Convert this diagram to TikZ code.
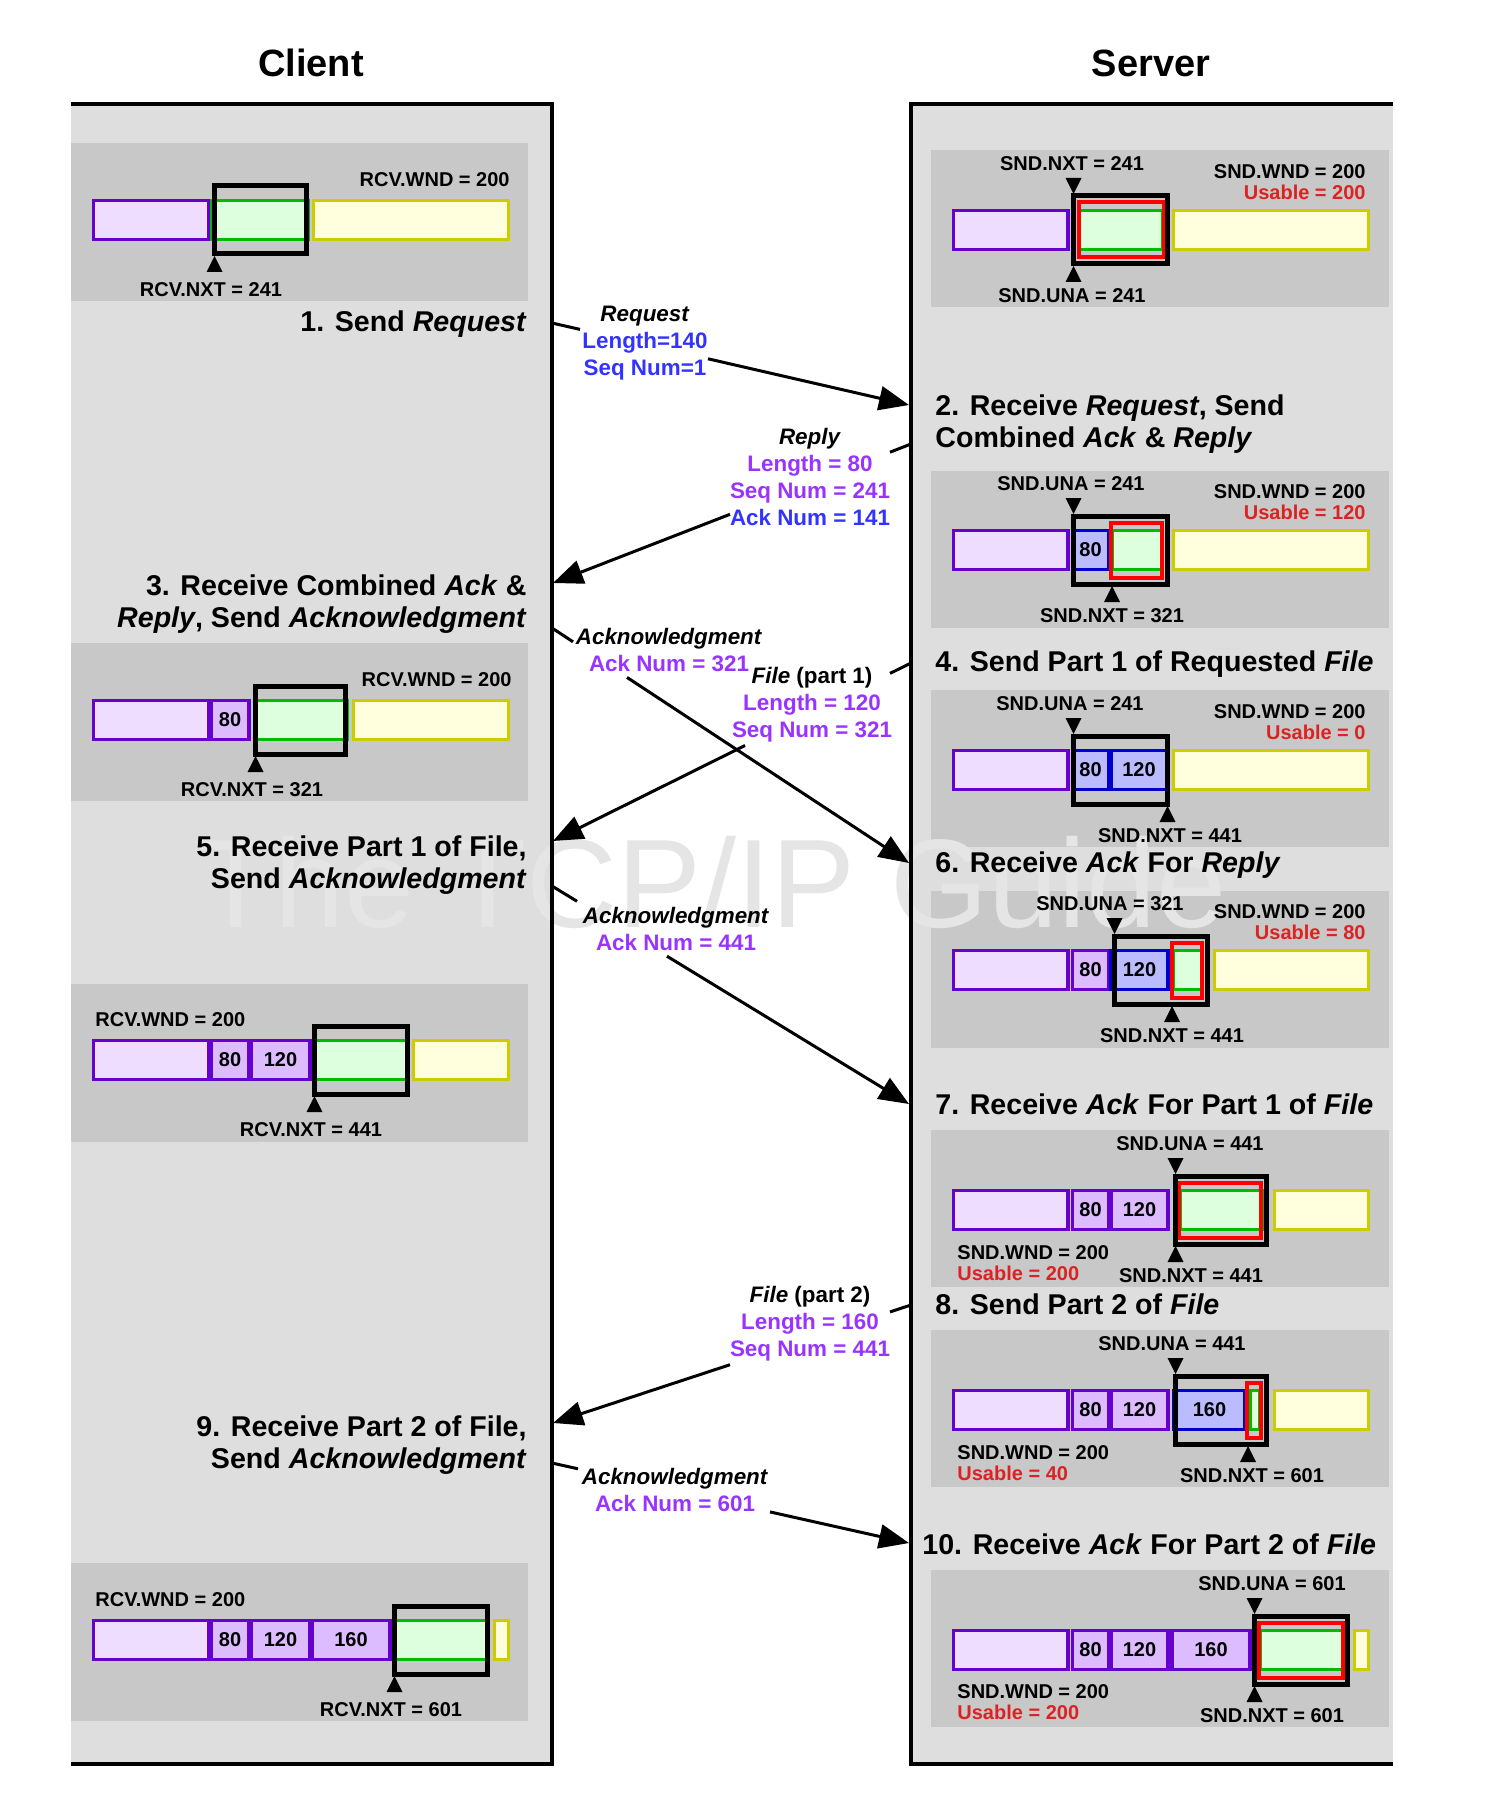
\documentclass[tikz,border=0pt]{standalone}
\usepackage{fontspec}
\setmainfont{Liberation Sans}
\usetikzlibrary{arrows.meta}

\definecolor{colgray}{HTML}{DEDEDE}
\definecolor{panegray}{HTML}{C8C8C8}
\definecolor{oldline}{HTML}{6600CC}
\definecolor{oldfill}{HTML}{EEDDFF}
\definecolor{ackfill}{HTML}{DDBBFF}
\definecolor{sentline}{HTML}{0000CC}
\definecolor{sentfill}{HTML}{BBBBFF}
\definecolor{winline}{HTML}{00BB00}
\definecolor{winfill}{HTML}{DDFFDD}
\definecolor{futline}{HTML}{CCCC00}
\definecolor{futfill}{HTML}{FFFFDD}
\definecolor{usered}{HTML}{DD2222}
\definecolor{msgblue}{HTML}{3333FF}
\definecolor{msgpurple}{HTML}{9933FF}

% one piece of a window bar: style, x1, x2, y of bar centre
\newcommand{\wseg}[4]{\draw[#1] ({#2},{#4-19.5}) rectangle ({#3},{#4+19.5});}
\newcommand{\wfrm}[3]{\draw[wnd] ({#1},{#3-34}) rectangle ({#2},{#3+34});}
\newcommand{\ufrm}[3]{\draw[usable] ({#1},{#3-27.5}) rectangle ({#2},{#3+27.5});}
\newcommand{\ptrup}[2]{\fill ({#1-8},{#2+52}) -- ({#1+8},{#2+52}) -- ({#1},{#2+36}) -- cycle;}
\newcommand{\ptrdn}[2]{\fill ({#1-8},{#2-52}) -- ({#1+8},{#2-52}) -- ({#1},{#2-36}) -- cycle;}

\begin{document}
\begin{tikzpicture}[x=0.5pt,y=-0.5pt,
  frame/.style={line width=2pt},
  old/.style={draw=oldline,fill=oldfill,line width=1.6pt},
  ackd/.style={draw=oldline,fill=ackfill,line width=1.6pt},
  sent/.style={draw=sentline,fill=sentfill,line width=1.6pt},
  win/.style={draw=winline,fill=winfill,line width=1.6pt},
  fut/.style={draw=futline,fill=futfill,line width=1.6pt},
  wnd/.style={draw=black,line width=2.5pt},
  usable/.style={draw=red,line width=2pt},
  lbl/.style={font=\fontsize{10}{12}\selectfont\bfseries,inner sep=0pt},
  stage/.style={font=\fontsize{14.3}{16}\selectfont\bfseries,inner sep=0pt},
  hdr/.style={font=\fontsize{19}{22}\selectfont\bfseries},
  msgtxt/.style={font=\fontsize{11.2}{13.5}\selectfont\bfseries,align=center,inner sep=0pt},
  msg/.style={line width=1.5pt},
  >={Triangle[length=15pt,width=12pt]}]
\useasboundingbox (0,0) rectangle (1506,1808);

% columns and panes
\fill[colgray] (71,104) rectangle (552,1764);
\fill[colgray] (911,104) rectangle (1393,1764);
\foreach \t in {143,643,984,1563} \fill[panegray] (71,\t) rectangle (528,{\t+158});
\foreach \t in {150,471,690,891,1130,1330,1570} \fill[panegray] (931,\t) rectangle (1389,{\t+157});
\node[font=\fontsize{63}{63}\selectfont,text=black!10] (wmark) at (712,882) {The TCP/IP Guide};
\draw[frame] (71,104) -- (552,104) -- (552,1764) -- (71,1764);
\draw[frame] (1393,104) -- (911,104) -- (911,1764) -- (1393,1764);

\node[hdr] (client) at (311,63) {Client};
\node[hdr] (server) at (1151,63) {Server};

%% client bars
% 1
\wseg{old}{93.5}{209}{220} \wseg{win}{212}{308}{220} \wseg{fut}{313.5}{508.5}{220}
\wfrm{214.5}{306.5}{220} \ptrup{214.5}{220}
\node[lbl] (c1nxt) at (211,290) {RCV.NXT = 241};
\node[lbl,anchor=east] (c1wnd) at (510,180) {RCV.WND = 200};
% 3
\wseg{old}{93.5}{209}{720} \wseg{ackd}{211}{249}{720} \wseg{win}{255}{347}{720} \wseg{fut}{353.5}{508.5}{720}
\wfrm{255.5}{345.5}{720} \ptrup{255.5}{720}
\node[lbl] (c2a) at (230,720) {80};
\node[lbl] (c2nxt) at (252,790) {RCV.NXT = 321};
\node[lbl,anchor=east] (c2wnd) at (512,680) {RCV.WND = 200};
% 5
\wseg{old}{93.5}{209}{1060} \wseg{ackd}{211}{249}{1060} \wseg{ackd}{251}{310}{1060}
\wseg{win}{314}{408}{1060} \wseg{fut}{413.5}{508.5}{1060}
\wfrm{314.5}{407.5}{1060} \ptrup{314.5}{1060}
\node[lbl] (c3a) at (230,1060) {80};
\node[lbl] (c3b) at (280.5,1060) {120};
\node[lbl] (c3nxt) at (311,1130) {RCV.NXT = 441};
\node[lbl,anchor=west] (c3wnd) at (95,1020) {RCV.WND = 200};
% 9
\wseg{old}{93.5}{209}{1640} \wseg{ackd}{211}{249}{1640} \wseg{ackd}{251}{310}{1640} \wseg{ackd}{312}{390}{1640}
\wseg{win}{394}{488}{1640} \wseg{fut}{494.5}{508.5}{1640}
\wfrm{394.5}{487.5}{1640} \ptrup{394.5}{1640}
\node[lbl] (c4a) at (230,1640) {80};
\node[lbl] (c4b) at (280.5,1640) {120};
\node[lbl] (c4c) at (351,1640) {160};
\node[lbl] (c4nxt) at (391,1710) {RCV.NXT = 601};
\node[lbl,anchor=west] (c4wnd) at (95,1600) {RCV.WND = 200};

%% server bars
% before 2
\wseg{old}{953.5}{1068}{230} \wseg{win}{1079}{1163}{230} \wseg{fut}{1173.5}{1368.5}{230}
\ufrm{1079}{1164}{230} \wfrm{1073.5}{1167.5}{230} \ptrdn{1073.5}{230} \ptrup{1073.5}{230}
\node[lbl] (s1nxt) at (1072,164) {SND.NXT = 241};
\node[lbl] (s1una) at (1072,296) {SND.UNA = 241};
\node[lbl,anchor=east] (s1wnd) at (1366,172) {SND.WND = 200};
\node[lbl,anchor=east,text=usered] (s1use) at (1366,192) {Usable = 200};
% 2
\wseg{old}{953.5}{1068}{550} \wseg{sent}{1072.5}{1108.5}{550} \wseg{win}{1112}{1162}{550} \wseg{fut}{1173.5}{1368.5}{550}
\ufrm{1111}{1162}{550} \wfrm{1073.5}{1167.5}{550} \ptrdn{1073.5}{550} \ptrup{1112}{550}
\node[lbl] (s2a) at (1090.5,550) {80};
\node[lbl] (s2una) at (1071,484) {SND.UNA = 241};
\node[lbl] (s2nxt) at (1112,616) {SND.NXT = 321};
\node[lbl,anchor=east] (s2wnd) at (1366,492) {SND.WND = 200};
\node[lbl,anchor=east,text=usered] (s2use) at (1366,512) {Usable = 120};
% 4
\wseg{old}{953.5}{1068}{770} \wseg{sent}{1072.5}{1108.5}{770} \wseg{sent}{1111}{1167}{770} \wseg{fut}{1173.5}{1368.5}{770}
\wfrm{1073.5}{1167.5}{770} \ptrdn{1073.5}{770} \ptrup{1167.5}{770}
\node[lbl] (s3a) at (1090.5,770) {80};
\node[lbl] (s3b) at (1139,770) {120};
\node[lbl] (s3una) at (1070,704) {SND.UNA = 241};
\node[lbl] (s3nxt) at (1170,836) {SND.NXT = 441};
\node[lbl,anchor=east] (s3wnd) at (1366,712) {SND.WND = 200};
\node[lbl,anchor=east,text=usered] (s3use) at (1366,732) {Usable = 0};
% 6
\wseg{old}{953.5}{1068}{970} \wseg{ackd}{1072.5}{1108.5}{970} \wseg{sent}{1111}{1168}{970}
\wseg{win}{1173}{1202}{970} \wseg{fut}{1214.5}{1368.5}{970}
\ufrm{1172}{1202}{970} \wfrm{1114.5}{1207.5}{970} \ptrdn{1114.5}{970} \ptrup{1172}{970}
\node[lbl] (s4a) at (1090.5,970) {80};
\node[lbl] (s4b) at (1139.5,970) {120};
\node[lbl] (s4una) at (1110,904) {SND.UNA = 321};
\node[lbl] (s4nxt) at (1172,1036) {SND.NXT = 441};
\node[lbl,anchor=east] (s4wnd) at (1366,912) {SND.WND = 200};
\node[lbl,anchor=east,text=usered] (s4use) at (1366,932) {Usable = 80};
% 7
\wseg{old}{953.5}{1068}{1210} \wseg{ackd}{1072.5}{1108.5}{1210} \wseg{ackd}{1111}{1168}{1210}
\wseg{win}{1180}{1262}{1210} \wseg{fut}{1274.5}{1368.5}{1210}
\ufrm{1179}{1261}{1210} \wfrm{1175.5}{1266.5}{1210} \ptrdn{1175.5}{1210} \ptrup{1175.5}{1210}
\node[lbl] (s5a) at (1090.5,1210) {80};
\node[lbl] (s5b) at (1139.5,1210) {120};
\node[lbl] (s5una) at (1190,1144) {SND.UNA = 441};
\node[lbl] (s5nxt) at (1191,1276) {SND.NXT = 441};
\node[lbl,anchor=west] (s5wnd) at (957,1253) {SND.WND = 200};
\node[lbl,anchor=west,text=usered] (s5use) at (957,1273) {Usable = 200};
% 8
\wseg{old}{953.5}{1068}{1410} \wseg{ackd}{1072.5}{1108.5}{1410} \wseg{ackd}{1111}{1168}{1410} \wseg{sent}{1174}{1245}{1410}
\wseg{win}{1250}{1260}{1410} \wseg{fut}{1274.5}{1368.5}{1410}
\ufrm{1247}{1261}{1410} \wfrm{1175.5}{1266.5}{1410} \ptrdn{1175.5}{1410} \ptrup{1248}{1410}
\node[lbl] (s6a) at (1090.5,1410) {80};
\node[lbl] (s6b) at (1139.5,1410) {120};
\node[lbl] (s6c) at (1209.5,1410) {160};
\node[lbl] (s6una) at (1172,1344) {SND.UNA = 441};
\node[lbl] (s6nxt) at (1252,1476) {SND.NXT = 601};
\node[lbl,anchor=west] (s6wnd) at (957,1453) {SND.WND = 200};
\node[lbl,anchor=west,text=usered] (s6use) at (957,1473) {Usable = 40};
% 10
\wseg{old}{953.5}{1068}{1650} \wseg{ackd}{1072.5}{1108.5}{1650} \wseg{ackd}{1111}{1168}{1650} \wseg{ackd}{1172}{1250}{1650}
\wseg{win}{1260}{1343}{1650} \wseg{fut}{1354.5}{1368.5}{1650}
\ufrm{1259}{1343}{1650} \wfrm{1254.5}{1347.5}{1650} \ptrdn{1254.5}{1650} \ptrup{1254.5}{1650}
\node[lbl] (s7a) at (1090.5,1650) {80};
\node[lbl] (s7b) at (1139.5,1650) {120};
\node[lbl] (s7c) at (1211,1650) {160};
\node[lbl] (s7una) at (1272,1584) {SND.UNA = 601};
\node[lbl] (s7nxt) at (1272,1716) {SND.NXT = 601};
\node[lbl,anchor=west] (s7wnd) at (957,1692) {SND.WND = 200};
\node[lbl,anchor=west,text=usered] (s7use) at (957,1712) {Usable = 200};

%% steps
\node[stage,anchor=east] (st1) at (527,324) {1. Send \textit{Request}};
\node[stage,anchor=west,align=left] (st2) at (935,424) {2. Receive \textit{Request}, Send\\Combined \textit{Ack} \& \textit{Reply}};
\node[stage,anchor=east,align=right] (st3) at (527,604) {3. Receive Combined \textit{Ack} \&\\\textit{Reply}, Send \textit{Acknowledgment}};
\node[stage,anchor=west] (st4) at (935,664) {4. Send Part 1 of Requested \textit{File}};
\node[stage,anchor=east,align=right] (st5) at (527,865) {5. Receive Part 1 of File,\\Send \textit{Acknowledgment}};
\node[stage,anchor=west] (st6) at (935,865) {6. Receive \textit{Ack} For \textit{Reply}};
\node[stage,anchor=west] (st7) at (935,1104) {7. Receive \textit{Ack} For Part 1 of \textit{File}};
\node[stage,anchor=west] (st8) at (935,1304) {8. Send Part 2 of \textit{File}};
\node[stage,anchor=east,align=right] (st9) at (527,1445) {9. Receive Part 2 of File,\\Send \textit{Acknowledgment}};
\node[stage,anchor=west] (st10) at (922,1544) {10. Receive \textit{Ack} For Part 2 of \textit{File}};

%% messages
\node[msgtxt] (req) at (645,343) {\textit{Request}\\\textcolor{msgblue}{Length=140}\\\textcolor{msgblue}{Seq Num=1}};
\node[msgtxt] (rep) at (810,477) {\textit{Reply}\\\textcolor{msgpurple}{Length = 80}\\\textcolor{msgpurple}{Seq Num = 241}\\\textcolor{msgblue}{Ack Num = 141}};
\node[msgtxt] (ack1) at (669,650) {\textit{Acknowledgment}\\\textcolor{msgpurple}{Ack Num = 321}};
\node[msgtxt] (file1) at (812,705) {\textit{File} (part 1)\\\textcolor{msgpurple}{Length = 120}\\\textcolor{msgpurple}{Seq Num = 321}};
\node[msgtxt] (ack2) at (676,929) {\textit{Acknowledgment}\\\textcolor{msgpurple}{Ack Num = 441}};
\node[msgtxt] (file2) at (810,1324) {\textit{File} (part 2)\\\textcolor{msgpurple}{Length = 160}\\\textcolor{msgpurple}{Seq Num = 441}};
\node[msgtxt] (ack3) at (675,1490) {\textit{Acknowledgment}\\\textcolor{msgpurple}{Ack Num = 601}};

\coordinate (c1) at (552,323);   \coordinate (s1) at (909,405);
\coordinate (c1a) at (580,329.4); \coordinate (c1b) at (708,358.8);
\coordinate (s2) at (911,444);   \coordinate (c2) at (553,583);
\coordinate (s2a) at (890,452.2); \coordinate (s2b) at (730,514.3);
\coordinate (c3) at (552,628);   \coordinate (s3) at (909,863);
\coordinate (c3a) at (573,641.8); \coordinate (c3b) at (627,677.4);
\coordinate (s4) at (911,663);   \coordinate (c4) at (553,841);
\coordinate (s4a) at (890,673.4); \coordinate (s4b) at (745,745.5);
\coordinate (c5) at (552,886);   \coordinate (s5) at (909,1104);
\coordinate (c5a) at (577,901.3); \coordinate (c5b) at (667,956.2);
\coordinate (s6) at (911,1305);  \coordinate (c6) at (553,1423);
\coordinate (s6a) at (890,1311.9); \coordinate (s6b) at (730,1364.7);
\coordinate (c7) at (552,1463);  \coordinate (s7) at (909,1543);
\coordinate (c7a) at (578,1468.8); \coordinate (c7b) at (770,1511.9);

\draw[msg] (c1) -- (c1a); \draw[msg,->] (c1b) -- (s1);
\draw[msg] (s2) -- (s2a); \draw[msg,->] (s2b) -- (c2);
\draw[msg] (c3) -- (c3a); \draw[msg,->] (c3b) -- (s3);
\draw[msg] (s4) -- (s4a); \draw[msg,->] (s4b) -- (c4);
\draw[msg] (c5) -- (c5a); \draw[msg,->] (c5b) -- (s5);
\draw[msg] (s6) -- (s6a); \draw[msg,->] (s6b) -- (c6);
\draw[msg] (c7) -- (c7a); \draw[msg,->] (c7b) -- (s7);
\end{tikzpicture}
\end{document}
